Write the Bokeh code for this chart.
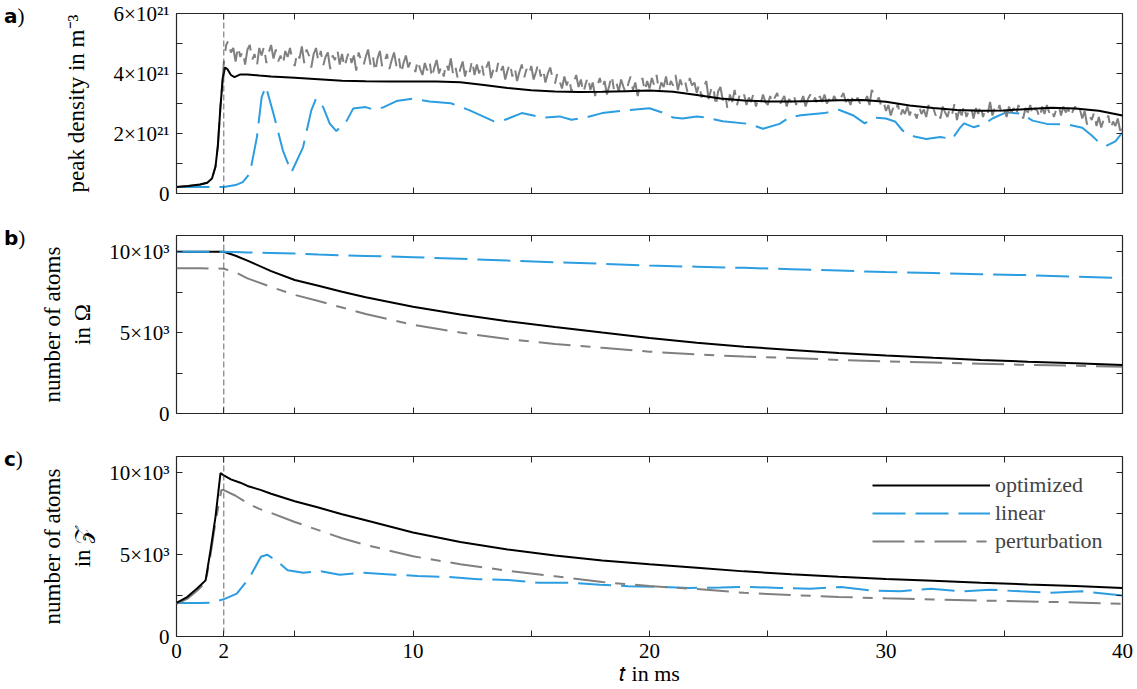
import numpy as np
from bokeh.plotting import figure
from bokeh.layouts import column, row
from bokeh.models import Range1d, LinearAxis, FixedTicker, Span, Legend, LegendItem, Div
from bokeh.embed import file_html
from bokeh.resources import INLINE

# ---------------------------------------------------------------- data
# time axis in ms
x_ticks = [0, 2, 5, 10, 15, 20, 25, 30, 35, 40]
x_tick_labels = ["0", "2", "", "10", "", "20", "", "30", "", "40"]

# a) peak density, in units of 1e21 m^-3
y_ticks_a = [0, 1, 2, 3, 4, 5, 6]
y_tick_labels_a = ["0", "", "2×10²¹", "", "4×10²¹", "", "6×10²¹"]

t_opt_a = [0, 0.5, 1.0, 1.3, 1.5, 1.65, 1.75, 1.85, 1.95, 2.05, 2.15, 2.3, 2.45, 2.7,
           3.0, 3.5, 4, 5, 6, 7, 8, 9, 10, 11, 12, 13, 14, 15, 16, 17, 18, 19, 20,
           21, 22, 23, 24, 25, 26, 27, 28, 29, 30, 31, 32, 33, 34, 35, 36, 37, 38, 39, 40]
n_opt_a = [0.22, 0.25, 0.30, 0.36, 0.50, 0.90, 1.60, 2.80, 3.80, 4.20, 4.15, 3.95, 3.88, 3.97,
           3.97, 3.93, 3.90, 3.86, 3.81, 3.76, 3.74, 3.73, 3.73, 3.73, 3.71, 3.62, 3.52, 3.44,
           3.40, 3.38, 3.39, 3.41, 3.43, 3.39, 3.28, 3.17, 3.10, 3.07, 3.07, 3.08, 3.11, 3.12,
           3.06, 2.93, 2.85, 2.78, 2.76, 2.77, 2.82, 2.86, 2.83, 2.76, 2.60]

t_lin_a = [0, 1, 2, 2.5, 2.8, 3.1, 3.4, 3.6, 3.78, 4.1, 4.5, 4.86, 5.35, 5.7, 5.9, 6.2,
           6.48, 6.76, 7.2, 7.47, 8.0, 8.3, 8.74, 9.3, 10.0, 10.7, 11.6, 12.4, 13.4, 13.9,
           14.6, 15.5, 16.2, 16.7, 17.3, 18.0, 19.0, 20.0, 20.7, 21.0, 21.4, 22.0, 22.4,
           23.1, 24.2, 24.8, 25.5, 25.9, 26.4, 27.4, 28.0, 28.6, 29.1, 29.5, 30.0, 30.4,
           30.7, 31.2, 31.7, 32.3, 32.8, 33.1, 33.3, 33.7, 34.1, 34.5, 35.1, 35.7, 36.2,
           36.8, 37.7, 38.3, 38.7, 39.0, 39.3, 39.7, 40.0]
n_lin_a = [0.22, 0.22, 0.22, 0.28, 0.38, 0.66, 1.88, 3.21, 3.57, 2.66, 1.43, 0.71, 1.54,
           2.77, 3.16, 2.88, 2.33, 2.08, 2.43, 2.83, 2.88, 2.80, 2.87, 3.08, 3.16, 3.07,
           3.01, 2.77, 2.41, 2.46, 2.68, 2.53, 2.57, 2.46, 2.53, 2.68, 2.77, 2.84, 2.66,
           2.53, 2.50, 2.57, 2.53, 2.41, 2.32, 2.16, 2.32, 2.53, 2.61, 2.68, 2.79, 2.61,
           2.34, 2.53, 2.50, 2.39, 2.10, 1.90, 1.82, 1.88, 1.82, 2.16, 2.34, 2.21, 2.30,
           2.50, 2.71, 2.66, 2.43, 2.32, 2.30, 2.19, 1.93, 1.71, 1.58, 1.74, 2.04]

# perturbation: rise before 2 ms, then one sample per 0.1 ms from 2.0 to 40.0
t_pert_rise = [0, 0.5, 1.0, 1.3, 1.5, 1.65, 1.75, 1.85, 1.95]
n_pert_rise = [0.22, 0.25, 0.30, 0.36, 0.50, 0.90, 1.60, 2.80, 3.80]
n_pert_a = [
    4.35, 4.95, 5.10, 4.70, 4.85, 4.40, 4.90, 4.55, 4.75, 4.30,
    4.80, 4.95, 4.45, 4.65, 4.25, 4.85, 4.60, 4.90, 4.35, 4.70,
    4.95, 4.50, 4.80, 4.40, 4.60, 4.30, 4.75, 4.55, 4.85, 4.45,
    4.25, 4.70, 4.50, 4.90, 4.35, 4.80, 4.60, 4.20, 4.65, 4.85,
    4.40, 4.75, 4.25, 4.55, 4.70, 4.15, 4.60, 4.45, 4.80, 4.30,
    4.65, 4.20, 4.50, 4.75, 4.35, 4.60, 4.10, 4.70, 4.45, 4.25,
    4.55, 4.80, 4.30, 4.60, 4.05, 4.50, 4.75, 4.20, 4.40, 4.65,
    4.15, 4.45, 4.70, 4.25, 4.55, 4.00, 4.35, 4.60, 4.20, 4.40,
    4.30, 4.05, 4.45, 4.15, 3.95, 4.35, 4.10, 4.40, 3.85, 4.20,
    4.45, 4.00, 4.25, 3.90, 4.35, 4.10, 4.50, 3.95, 4.20, 3.80,
    4.15, 4.40, 3.90, 4.25, 4.05, 4.45, 3.95, 4.30, 4.00, 4.35,
    3.90, 4.20, 4.40, 3.85, 4.15, 3.95, 4.35, 4.05, 4.25, 3.80,
    4.10, 4.35, 3.90, 4.20, 3.75, 4.05, 4.30, 3.85, 4.15, 3.95,
    4.25, 3.80, 4.05, 4.35, 3.90, 4.15, 3.70, 4.00, 4.20, 3.85,
    3.65, 4.00, 3.75, 3.50, 3.90, 3.60, 3.85, 3.40, 3.70, 3.95,
    3.55, 3.80, 3.35, 3.65, 3.90, 3.45, 3.70, 3.25, 3.60, 3.85,
    3.50, 3.75, 3.30, 3.60, 3.95, 3.45, 3.70, 3.40, 3.80, 3.55,
    3.35, 3.65, 3.90, 3.45, 3.70, 3.25, 3.60, 3.85, 3.40, 3.75,
    3.50, 3.85, 3.60, 3.95, 3.40, 3.70, 3.55, 3.90, 3.45, 3.75,
    3.60, 3.95, 3.45, 3.80, 3.55, 3.75, 3.40, 3.85, 3.60, 3.70,
    3.35, 3.65, 3.20, 3.55, 3.75, 3.15, 3.45, 3.60, 2.90, 3.40,
    3.55, 3.10, 3.35, 2.80, 3.30, 3.05, 3.45, 2.95, 3.25, 3.10,
    3.30, 2.95, 3.20, 3.05, 3.35, 2.90, 3.15, 3.00, 3.30, 3.05,
    2.95, 3.25, 3.00, 3.20, 3.35, 2.95, 3.10, 3.25, 2.90, 3.15,
    3.05, 3.30, 2.95, 3.20, 3.05, 3.25, 2.90, 3.15, 3.30, 3.00,
    3.20, 2.95, 3.25, 3.05, 3.30, 3.00, 3.15, 2.95, 3.25, 3.10,
    3.00, 3.20, 3.35, 3.05, 3.15, 2.95, 3.25, 3.05, 3.20, 3.00,
    3.15, 3.05, 3.25, 2.95, 3.45, 3.30, 3.10, 3.20, 2.90, 3.05,
    2.75, 2.95, 2.60, 2.85, 2.70, 3.00, 2.55, 2.80, 2.65, 2.90,
    2.60, 2.85, 2.70, 2.50, 2.90, 2.65, 2.80, 2.55, 2.95, 2.70,
    2.85, 2.60, 2.75, 2.50, 2.90, 2.70, 2.55, 2.85, 2.65, 3.00,
    2.45, 2.80, 2.60, 2.95, 2.55, 2.75, 2.90, 2.50, 2.85, 2.65,
    2.95, 2.55, 2.80, 2.65, 3.05, 2.60, 2.85, 2.70, 2.95, 2.60,
    2.80, 2.55, 2.90, 2.70, 2.85, 2.60, 2.95, 2.75, 2.50, 2.85,
    2.70, 2.95, 2.60, 2.85, 2.75, 2.50, 2.90, 2.65, 2.95, 2.70,
    2.85, 2.55, 2.80, 2.95, 2.60, 2.90, 2.70, 2.85, 2.55, 2.75,
    2.90, 2.65, 2.80, 2.50, 2.75, 2.30, 2.60, 2.45, 2.70, 2.25,
    2.55, 2.20, 2.45, 2.35, 2.60, 2.15, 2.40, 2.25, 2.50, 2.10,
    2.15,
]

# b) and c) atom counts, in units of 1e3
y_ticks_bc = [0, 2.5, 5, 7.5, 10]
y_tick_labels_bc = ["0", "", "5×10³", "", "10×10³"]

t_b = [0, 1, 2, 2.5, 3, 4, 5, 6, 7, 8, 10, 12, 14, 16, 18, 20, 22, 24, 26, 28, 30, 32, 34, 36, 38, 40]
n_opt_b = [10.0, 10.0, 10.0, 9.75, 9.45, 8.80, 8.25, 7.90, 7.52, 7.18, 6.60, 6.12, 5.70,
           5.34, 5.00, 4.67, 4.37, 4.13, 3.93, 3.74, 3.58, 3.44, 3.31, 3.20, 3.10, 3.00]
n_lin_b = [10.0, 10.0, 10.0, 9.98, 9.95, 9.92, 9.88, 9.82, 9.78, 9.74, 9.66, 9.56, 9.45,
           9.35, 9.25, 9.14, 9.07, 9.00, 8.92, 8.83, 8.74, 8.68, 8.61, 8.55, 8.46, 8.37]
n_pert_b = [8.97, 8.97, 8.95, 8.72, 8.35, 7.82, 7.33, 6.95, 6.55, 6.15, 5.48, 5.00, 4.60,
            4.30, 4.06, 3.82, 3.65, 3.52, 3.43, 3.31, 3.22, 3.15, 3.08, 3.00, 2.95, 2.89]

t_opt_c = [0, 0.45, 0.87, 1.23, 1.44, 1.65, 1.86, 2.0, 2.3, 2.7, 3.0, 3.55, 4, 5, 6, 7, 8,
           10, 12, 14, 16, 18, 20, 22, 24, 26, 28, 30, 32, 34, 36, 38, 40]
n_opt_c = [2.05, 2.41, 2.93, 3.43, 5.28, 7.32, 9.98, 9.85, 9.60, 9.40, 9.20, 8.96, 8.72,
           8.27, 7.88, 7.47, 7.10, 6.36, 5.78, 5.32, 4.95, 4.65, 4.41, 4.20, 3.98, 3.80,
           3.65, 3.52, 3.41, 3.29, 3.18, 3.08, 2.96]

t_pert_c = [0, 0.45, 0.87, 1.23, 1.44, 1.65, 1.9, 2.0, 2.5, 3.0, 3.5, 4, 5, 6, 7, 8, 10,
            12, 14, 16, 18, 20, 22, 24, 26, 28, 30, 32, 34, 36, 38, 40]
n_pert_c = [2.00, 2.30, 2.80, 3.30, 5.00, 7.00, 8.96, 8.95, 8.60, 8.15, 7.80, 7.55, 7.00,
            6.50, 6.00, 5.60, 4.90, 4.42, 4.02, 3.68, 3.33, 3.08, 2.90, 2.67, 2.53, 2.42,
            2.33, 2.26, 2.20, 2.14, 2.08, 2.00]

t_lin_c = [0, 1, 1.5, 2.04, 2.55, 3.06, 3.57, 3.83, 4.2, 4.7, 5.36, 6.1, 6.9, 7.9, 9.2,
           10.2, 11.5, 12.75, 14.0, 15.3, 16.6, 17.9, 19.1, 20.4, 21.7, 23.0, 24.2, 25.5,
           26.8, 28.1, 29.3, 30.6, 31.9, 33.2, 34.4, 35.7, 37.0, 38.3, 40]
n_lin_c = [2.05, 2.05, 2.06, 2.30, 2.62, 3.54, 4.87, 5.00, 4.66, 4.05, 3.90, 3.99, 3.78,
           3.89, 3.78, 3.70, 3.64, 3.50, 3.46, 3.29, 3.29, 3.17, 3.07, 3.03, 2.97, 2.99,
           3.03, 2.97, 2.92, 3.03, 2.82, 2.76, 2.92, 2.76, 2.86, 2.76, 2.68, 2.76, 2.50]

switch_time = 2.0
legend_labels = ["optimized", "linear", "perturbation"]
y_axis_labels = ["peak density in m⁻³", "number of atoms\nin Ω", "number of atoms\nin 𝒵"]
x_axis_label = "𝑡 in ms"
panel_letters = ["a", "b", "c"]

# ---------------------------------------------------------------- style
SERIF = "Liberation Serif"
FS = "21px"
C_OPT, C_LIN, C_PERT = "#000000", "#2b9de0", "#808080"
DASH_LIN, DASH_PERT = "33 10", "32 10 10 10"
AX = "#262626"

W, LETTER_W, FIG_LEFT, RIGHT = 1137, 30, 146, 15


def framed_axis(ticks, labels, show):
    ax = LinearAxis(ticker=FixedTicker(ticks=list(ticks)))
    ax.axis_line_color = None
    ax.major_tick_in = 6
    ax.major_tick_out = 0
    ax.minor_tick_in = 0
    ax.minor_tick_out = 0
    ax.major_tick_line_color = AX
    ax.major_tick_line_width = 1
    ax.major_label_overrides = {t: (lab if show else "") for t, lab in zip(ticks, labels)}
    ax.major_label_text_font = SERIF
    ax.major_label_text_font_size = FS if show else "0px"
    ax.major_label_text_color = "#000000"
    ax.major_label_standoff = 7 if show else 0
    ax.axis_label_text_font = SERIF
    ax.axis_label_text_font_size = "23px"
    ax.axis_label_text_font_style = "normal"
    ax.axis_label_text_color = "#000000"
    return ax


def panel(height, top, bottom, y_end, y_ticks, y_labels, y_title, title_standoff, x_title=None):
    p = figure(width=W - LETTER_W, height=height, x_range=Range1d(0, 40),
               y_range=Range1d(0, y_end), output_backend="svg", toolbar_location=None,
               x_axis_type=None, y_axis_type=None,
               min_border_left=FIG_LEFT, min_border_right=RIGHT,
               min_border_top=top, min_border_bottom=bottom, margin=0)
    p.outline_line_color = AX
    p.outline_line_width = 1.2
    p.background_fill_color = "white"
    p.border_fill_color = "white"
    left = framed_axis(y_ticks, y_labels, True)
    left.axis_label = y_title
    left.axis_label_standoff = title_standoff
    p.add_layout(left, "left")
    p.add_layout(framed_axis(y_ticks, y_labels, False), "right")
    bottom_axis = framed_axis(x_ticks, x_tick_labels, x_title is not None)
    if x_title is not None:
        bottom_axis.major_label_standoff = 7
        bottom_axis.axis_label = x_title
        bottom_axis.axis_label_standoff = 0
        bottom_axis.axis_label_text_font_size = "22px"
    p.add_layout(bottom_axis, "below")
    p.add_layout(framed_axis(x_ticks, x_tick_labels, False), "above")
    p.add_layout(Span(location=switch_time, dimension="height", line_color="#404040",
                      line_dash="6 3", line_width=0.8))
    return p


def letter_box(letter, height, pad_top):
    html = ('<div style="padding:%dpx 0 0 4px;line-height:20px;color:#000">'
            '<span style="font-family:\'DejaVu Sans\';font-weight:bold;font-size:20px">%s</span>'
            '<span style="font-family:\'Liberation Serif\';font-size:21px">)</span></div>'
            % (pad_top, letter))
    return Div(text=html, width=LETTER_W, height=height, margin=0)


# ---------------------------------------------------------------- a) peak density
pa = panel(222, 13, 29, 6, y_ticks_a, y_tick_labels_a, y_axis_labels[0], 22)
t_pert_a = t_pert_rise + [round(v, 1) for v in np.arange(2.0, 40.05, 0.1)]
pa.line(t_lin_a, n_lin_a, line_color=C_LIN, line_width=2, line_dash=DASH_LIN)
pa.line(t_pert_a, n_pert_rise + n_pert_a, line_color=C_PERT, line_width=2, line_dash=DASH_PERT)
pa.line(t_opt_a, n_opt_a, line_color=C_OPT, line_width=2)

# ---------------------------------------------------------------- b) atoms in Omega
pb = panel(221, 13, 30, 11, y_ticks_bc, y_tick_labels_bc, y_axis_labels[1], 11)
pb.line(t_b, n_pert_b, line_color=C_PERT, line_width=2, line_dash=DASH_PERT)
pb.line(t_b, n_opt_b, line_color=C_OPT, line_width=2)
pb.line(t_b, n_lin_b, line_color=C_LIN, line_width=2, line_dash=DASH_LIN)

# ---------------------------------------------------------------- c) atoms in Z
pc = panel(246, 13, 53, 11, y_ticks_bc, y_tick_labels_bc, y_axis_labels[2], 11, x_axis_label)
r_lin = pc.line(t_lin_c, n_lin_c, line_color=C_LIN, line_width=2, line_dash=DASH_LIN)
r_pert = pc.line(t_pert_c, n_pert_c, line_color=C_PERT, line_width=2, line_dash=DASH_PERT)
r_opt = pc.line(t_opt_c, n_opt_c, line_color=C_OPT, line_width=2)

legend = Legend(items=[LegendItem(label=legend_labels[0], renderers=[r_opt]),
                       LegendItem(label=legend_labels[1], renderers=[r_lin]),
                       LegendItem(label=legend_labels[2], renderers=[r_pert])],
                location=(696, 82))
legend.border_line_color = None
legend.background_fill_alpha = 0
legend.padding = 0
legend.margin = 0
legend.spacing = 2
legend.glyph_width = 118
legend.glyph_height = 20
legend.label_height = 20
legend.label_standoff = 5
legend.label_text_font = SERIF
legend.label_text_font_size = "22px"
pc.add_layout(legend)

layout = column(
    row(letter_box(panel_letters[0], 222, 6), pa, spacing=0, margin=0),
    row(letter_box(panel_letters[1], 221, 6), pb, spacing=0, margin=0),
    row(letter_box(panel_letters[2], 246, 6), pc, spacing=0, margin=0),
    spacing=0, margin=0,
)
open("out.html", "w").write(file_html(layout, INLINE))
